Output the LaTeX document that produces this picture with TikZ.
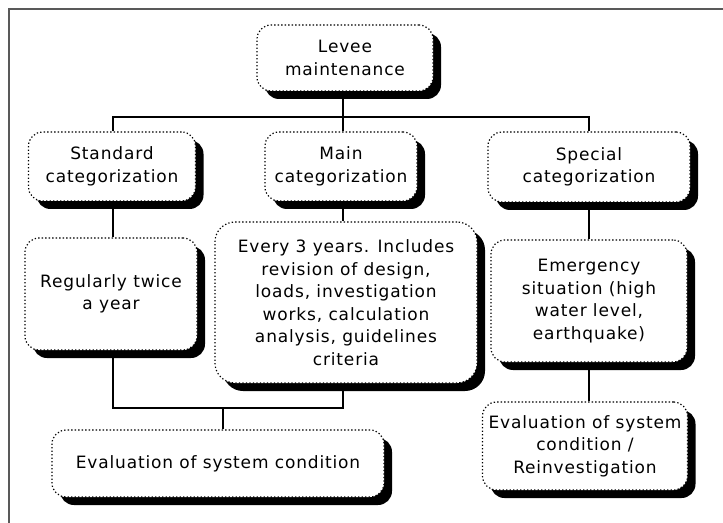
\documentclass[tikz,border=0pt]{standalone}
\usepackage{fontspec}
\setmainfont{DejaVu Sans}[LetterSpace=5.0]
\usetikzlibrary{shadows}
\begin{document}
\begin{tikzpicture}[x=1bp,y=-1bp,
  box/.style={draw=black, fill=white, line width=1.2bp,
    dash pattern=on 1.3bp off 2.2bp, rounded corners=14bp,
    align=center, inner sep=0pt,
    general shadow={fill=black, shadow xshift=8bp, shadow yshift=-8bp},
    font=\fontsize{17bp}{22.5bp}\selectfont},
  conn/.style={draw=black, line width=1.8bp},
  frame/.style={draw=black!65, line width=1.5bp}]
\useasboundingbox (0,0) rectangle (723,523);
\draw[frame] (9,523) -- (9,9) -- (723,9);

\node[box, minimum width=176bp, minimum height=66bp] (levee) at (345,58) {Levee\\maintenance};
\node[box, minimum width=167bp, minimum height=69bp] (standard) at (112,166.5) {Standard\\categorization};
\node[box, minimum width=152bp, minimum height=69bp] (maincat) at (341,166.5) {Main\\categorization};
\node[box, minimum width=202bp, minimum height=70bp] (special) at (589,167) {Special\\categorization};
\node[box, minimum width=172bp, minimum height=112bp] (regular) at (111,294) {Regularly twice\\a year};
\node[box, rounded corners=20bp, minimum width=262bp, minimum height=161bp] (maindet) at (346,302.5) {Every 3 years. Includes\\revision of design,\\loads, investigation\\works, calculation\\analysis, guidelines\\criteria};
\node[box, minimum width=196bp, minimum height=122bp] (emerg) at (589,301) {Emergency\\situation (high\\water level,\\earthquake)};
\node[box, minimum width=205bp, minimum height=88bp] (evalr) at (585,446) {Evaluation of system\\condition /\\Reinvestigation};
\node[box, minimum width=332bp, minimum height=67bp] (evall) at (218,463.5) {Evaluation of system condition};

\coordinate (jtop) at (343,117);
\coordinate (jleft) at (113,117);
\coordinate (jbot) at (223,408);
\draw[conn] (levee.south -| jtop) -- (maincat.north -| jtop);
\draw[conn] (standard.north -| jleft) -- (jleft) -- (jtop) -| (special.north);
\draw[conn] (standard.south -| jleft) -- (regular.north -| jleft);
\draw[conn] (maincat.south -| jtop) -- (maindet.north -| jtop);
\draw[conn] (special.south) -- (emerg.north);
\draw[conn] (emerg.south) -- (evalr.north -| emerg.south);
\draw[conn] (regular.south -| jleft) |- (jbot) -| (maindet.south -| jtop);
\draw[conn] (jbot) -- (evall.north -| jbot);
\end{tikzpicture}
\end{document}
